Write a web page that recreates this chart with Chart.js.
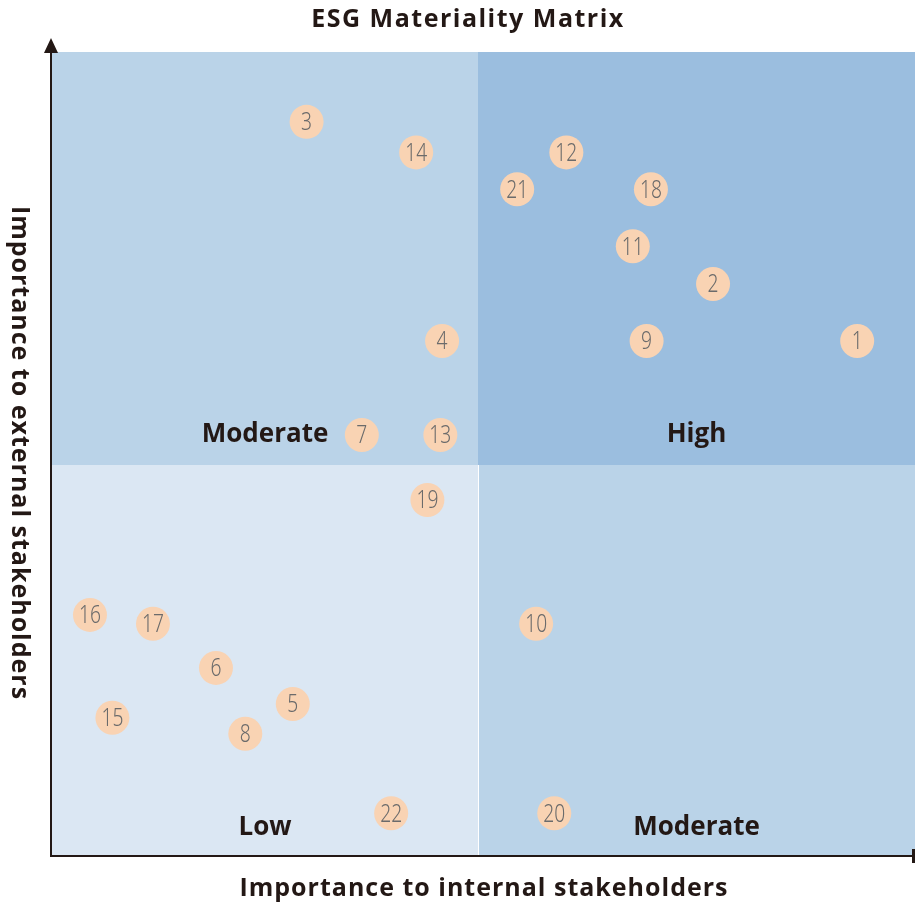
<!DOCTYPE html>
<html>
<head>
<meta charset="utf-8">
<title>ESG Materiality Matrix</title>
<script src="https://cdn.jsdelivr.net/npm/chart.js@4.4.1/dist/chart.umd.min.js"></script>
<style>
  html, body { margin: 0; padding: 0; background: #ffffff; overflow: hidden; }
  canvas { display: block; }
</style>
</head>
<body>
<canvas id="matrix" width="915" height="906"></canvas>
<script>
const issueIds = ['1','2','3','4','5','6','7','8','9','10','11','12','13','14','15','16','17','18','19','20','21','22'];
const internalScores = [9.33, 7.66, 2.95, 4.52, 2.79, 1.90, 3.59, 2.24, 6.89, 5.61, 6.73, 5.96, 4.50, 4.22, 0.70, 0.44, 1.17, 6.94, 4.35, 5.82, 5.39, 3.93];
const externalScores = [6.40, 7.11, 9.13, 6.40, 1.88, 2.33, 5.23, 1.51, 6.40, 2.88, 7.58, 8.75, 5.23, 8.75, 1.71, 2.99, 2.88, 8.29, 4.42, 0.52, 8.29, 0.52];

// where the quadrants split
const internalSplit = 4.94;
const externalSplit = 4.86;
const quadrantLabels = ['Moderate', 'High', 'Low', 'Moderate'];

const chartTitle = 'ESG Materiality Matrix';
const xTitle = 'Importance to internal stakeholders';
const yTitle = 'Importance to external stakeholders';

const ink = '#231815';

const points = issueIds.map((id, i) => ({ x: internalScores[i], y: externalScores[i] }));

const matrixPlugin = {
    id: 'matrix',
    beforeDatasetsDraw(chart) {
        const ctx = chart.ctx;
        const xs = chart.scales.x;
        const ys = chart.scales.y;
        const a = chart.chartArea;
        const sx = Math.round(xs.getPixelForValue(internalSplit));
        const sy = Math.round(ys.getPixelForValue(externalSplit));

        ctx.save();
        ctx.fillStyle = '#bad3e8';
        ctx.fillRect(a.left, a.top, sx - a.left, sy - a.top);
        ctx.fillStyle = '#9bbedf';
        ctx.fillRect(sx, a.top, a.right - sx, sy - a.top);
        ctx.fillStyle = '#dbe7f3';
        ctx.fillRect(a.left, sy, sx - a.left, a.bottom - sy);
        ctx.fillStyle = '#bad3e8';
        ctx.fillRect(sx, sy, a.right - sx, a.bottom - sy);

        // thin white divider in the lower half
        ctx.strokeStyle = '#ffffff';
        ctx.lineWidth = 1;
        ctx.beginPath();
        ctx.moveTo(sx + 0.5, sy);
        ctx.lineTo(sx + 0.5, a.bottom);
        ctx.stroke();

        // quadrant labels
        ctx.fillStyle = ink;
        ctx.font = 'bold 26px "Open Sans", sans-serif';
        ctx.textAlign = 'center';
        ctx.textBaseline = 'middle';
        const lx = (a.left + sx) / 2;
        const rx = (sx + a.right) / 2;
        ctx.fillText(quadrantLabels[0], lx, sy - 30);
        ctx.fillText(quadrantLabels[1], rx, sy - 30);
        ctx.fillText(quadrantLabels[2], lx, a.bottom - 27);
        ctx.fillText(quadrantLabels[3], rx, a.bottom - 27);

        // axes with arrows
        ctx.strokeStyle = ink;
        ctx.lineWidth = 2;
        ctx.beginPath();
        ctx.moveTo(a.left - 1, a.bottom + 1);
        ctx.lineTo(a.left - 1, 48);
        ctx.moveTo(a.left - 2, a.bottom + 1);
        ctx.lineTo(a.right, a.bottom + 1);
        ctx.stroke();
        ctx.fillStyle = ink;
        ctx.beginPath();
        ctx.moveTo(a.left - 1, 38);
        ctx.lineTo(a.left - 8, 53);
        ctx.lineTo(a.left + 6, 53);
        ctx.closePath();
        ctx.fill();
        ctx.fillRect(a.right - 3, a.bottom - 6, 3, 14);

        // titles
        ctx.font = 'bold 25px "Open Sans", sans-serif';
        ctx.letterSpacing = '1.5px';
        ctx.fillText(chartTitle, 468, 20);
        ctx.letterSpacing = '1px';
        ctx.fillText(xTitle, 484, 889);
        ctx.translate(19, 453);
        ctx.rotate(Math.PI / 2);
        ctx.fillText(yTitle, 0, 0);
        ctx.restore();
    },
    afterDatasetsDraw(chart) {
        const ctx = chart.ctx;
        const meta = chart.getDatasetMeta(0);
        ctx.save();
        ctx.fillStyle = '#6b6b6b';
        ctx.font = '300 26px "Noto Sans", sans-serif';
        ctx.textAlign = 'center';
        ctx.textBaseline = 'middle';
        meta.data.forEach((pt, i) => {
            ctx.save();
            ctx.translate(pt.x, pt.y + 1);
            ctx.scale(0.74, 1);
            ctx.fillText(issueIds[i], 0, 0);
            ctx.restore();
        });
        ctx.restore();
    }
};

new Chart(document.getElementById('matrix'), {
    type: 'scatter',
    data: {
        datasets: [{
            data: points,
            pointRadius: 17,
            pointHoverRadius: 17,
            pointBackgroundColor: '#f9d3b3',
            pointBorderWidth: 0
        }]
    },
    options: {
        responsive: false,
        animation: false,
        layout: { autoPadding: false, padding: { left: 52, right: 0, top: 52, bottom: 51 } },
        plugins: {
            legend: { display: false },
            tooltip: { enabled: false }
        },
        scales: {
            x: { type: 'linear', min: 0, max: 10, display: false },
            y: { type: 'linear', min: 0, max: 10, display: false }
        }
    },
    plugins: [matrixPlugin]
});
</script>
</body>
</html>
